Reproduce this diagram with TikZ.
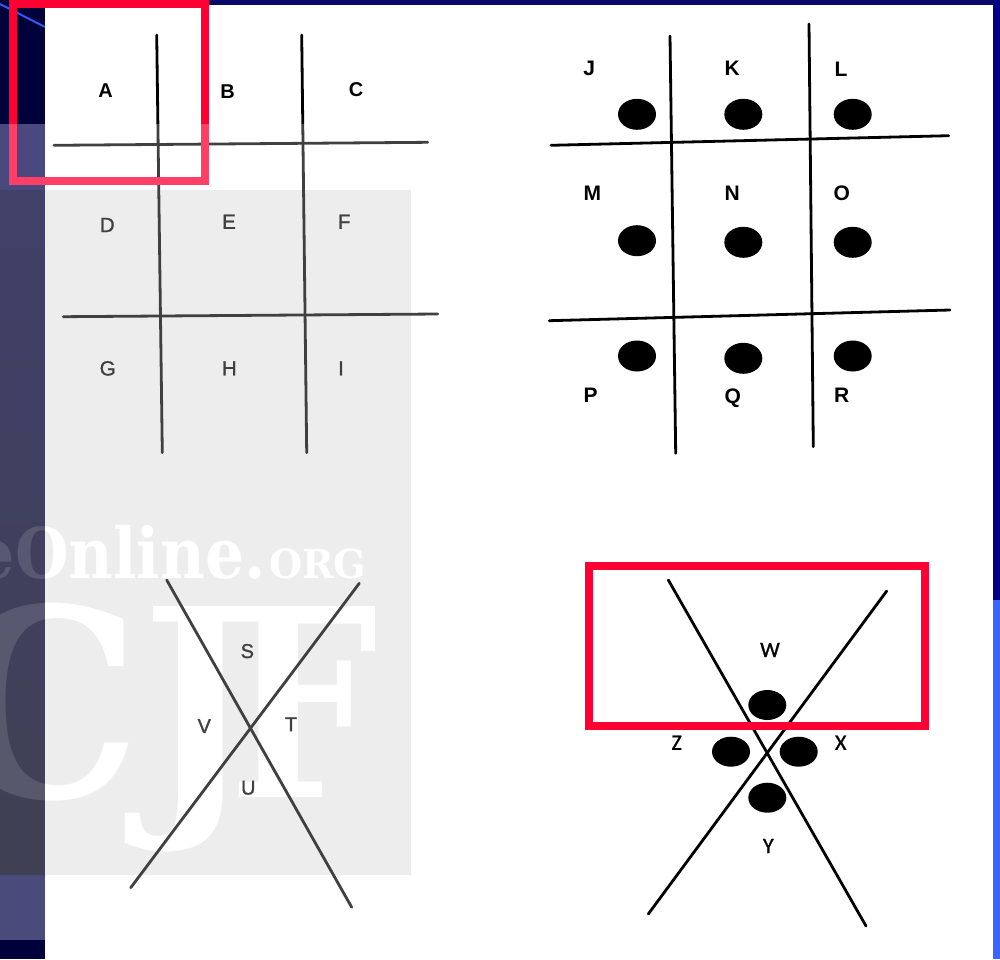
\documentclass[tikz,border=0pt]{standalone}
\usepackage{fontspec}
\setmainfont{Liberation Sans}
\newfontfamily\medfont[FakeBold=1.2]{Liberation Sans}
\newfontfamily\wmfont{DejaVu Serif}
\newfontfamily\calibfont[FakeBold=1.0]{Carlito}
\usetikzlibrary{shapes.geometric}
\definecolor{navybg}{RGB}{0,0,58}
\definecolor{topnavy}{RGB}{8,8,105}
\definecolor{rightnavy}{RGB}{0,0,135}
\definecolor{rightblue}{RGB}{58,102,255}
\definecolor{blueline}{RGB}{50,90,240}
\definecolor{stripA}{RGB}{13,13,85}
\definecolor{stripB}{RGB}{0,0,56}
\definecolor{stripC}{RGB}{0,0,26}
\definecolor{stripD}{RGB}{15,15,79}
\definecolor{wmgray}{RGB}{232,232,232}
\definecolor{boxred}{RGB}{255,0,51}
\tikzset{
  gline/.style={draw=black, line width=2.8pt, line cap=round},
  dot/.style={ellipse, fill=black, minimum width=38pt, minimum height=31pt, inner sep=0pt},
  dotx/.style={ellipse, fill=black, minimum width=38pt, minimum height=30pt, inner sep=0pt},
  labbold/.style={inner sep=0pt, text depth=0pt, font=\fontsize{20}{20}\selectfont\bfseries},
  labreg/.style={inner sep=0pt, text depth=0pt, font=\medfont\fontsize{20.5}{20}\selectfont},
  labJ/.style={inner sep=0pt, text depth=0pt, font=\fontsize{21}{21}\selectfont\bfseries},
  labS/.style={inner sep=0pt, text depth=0pt, font=\medfont\fontsize{20}{20}\selectfont},
  labW/.style={inner sep=0pt, text depth=0pt, font=\calibfont\fontsize{22}{22}\selectfont},
  redbox/.style={draw=boxred, line width=8pt},
  wm/.style={inner sep=0pt, text=white},
}
\newcommand\wmdraw[1]{%
  \node[wm, #1, font=\wmfont\bfseries\fontsize{70}{70}\selectfont, anchor=base east, xscale=0.88] (wmOnline) at (266,578) {eOnline.};
  \node[wm, #1, font=\wmfont\bfseries\fontsize{40}{40}\selectfont, anchor=base west, xscale=0.95] (wmOrg) at (269,578) {ORG};
  \node[wm, #1, font=\wmfont\bfseries\fontsize{262}{262}\selectfont, anchor=base east, xscale=0.95] (wmC) at (142,797) {C};
  \node[wm, #1, font=\wmfont\bfseries\fontsize{262}{262}\selectfont, anchor=base west, xscale=0.9] (wmJ) at (142,797) {J};
  \node[wm, #1, font=\wmfont\bfseries\fontsize{262}{262}\selectfont, anchor=base west, xscale=0.8] (wmF) at (229,797) {F};
}
\begin{document}
\begin{tikzpicture}[x=1pt,y=-1pt]
\useasboundingbox (0,0) rectangle (1000,959);
% background
\fill[navybg] (0,0) rectangle (1000,959);
\fill[topnavy] (45,0) rectangle (993,5);
\fill[rightnavy] (993,0) rectangle (1000,600);
\fill[rightblue] (993,600) rectangle (1000,959);
\draw[blueline, line width=2pt] (0,4) -- (45,27);
\fill[white] (45,5) rectangle (993,959);
\fill[stripA] (0,124) rectangle (45,190);
\shade[top color=stripB, bottom color=stripC] (0,190) rectangle (45,875);
\fill[stripD] (0,875) rectangle (45,940);
\fill[wmgray] (45,190) rectangle (411,875);
% watermark
\begin{scope}
  \clip (45,190) rectangle (411,875);
  \wmdraw{}
\end{scope}
\begin{scope}
  \clip (0,124) rectangle (45,940);
  \wmdraw{opacity=0.13}
\end{scope}
% grid 1
\coordinate (g1a1) at (156.7,35);  \coordinate (g1a2) at (162.3,452.7);
\coordinate (g1b1) at (301.7,35);  \coordinate (g1b2) at (306.7,452.7);
\coordinate (g1c1) at (54,145.3);  \coordinate (g1c2) at (427.7,142.3);
\coordinate (g1d1) at (63.3,316.7); \coordinate (g1d2) at (437.7,314);
\draw[gline] (g1a1) -- (g1a2);
\draw[gline] (g1b1) -- (g1b2);
\draw[gline] (g1c1) -- (g1c2);
\draw[gline] (g1d1) -- (g1d2);
\node[labbold] (A) at (105.7,90.7) {A};
\node[labbold] (B) at (227.7,91.7) {B};
\node[labbold] (C) at (356,90) {C};
\node[labreg] (D) at (107.3,225) {D};
\node[labreg] (E) at (229,221.7) {E};
\node[labreg] (F) at (344.3,221.7) {F};
\node[labreg] (G) at (107.7,368.3) {G};
\node[labreg] (H) at (229.3,368.3) {H};
\node[labreg] (I) at (341,368.3) {I};
% grid 2
\coordinate (g2a1) at (670,36);    \coordinate (g2a2) at (675.7,453.3);
\coordinate (g2b1) at (809,24);    \coordinate (g2b2) at (813.3,446.7);
\coordinate (g2c1) at (551,145.3); \coordinate (g2c2) at (948.7,135.7);
\coordinate (g2d1) at (549.3,320.7); \coordinate (g2d2) at (950,310);
\draw[gline] (g2a1) -- (g2a2);
\draw[gline] (g2b1) -- (g2b2);
\draw[gline] (g2c1) -- (g2c2);
\draw[gline] (g2d1) -- (g2d2);
\node[dot] (dJ) at (637,114.3) {};
\node[dot] (dK) at (743.3,114.3) {};
\node[dot] (dL) at (852.7,114.3) {};
\node[dot] (dM) at (637,240.7) {};
\node[dot] (dN) at (743.3,242.3) {};
\node[dot] (dO) at (852.7,242.3) {};
\node[dot] (dP) at (637,356) {};
\node[dot] (dQ) at (743.3,358.3) {};
\node[dot] (dR) at (852.7,356) {};
\node[labJ] (J) at (589.3,68.3) {J};
\node[labJ] (K) at (732.3,68.3) {K};
\node[labJ] (L) at (841,69.3) {L};
\node[labJ] (M) at (592.3,193.3) {M};
\node[labJ] (N) at (732.3,193.3) {N};
\node[labJ] (O) at (841.7,193.3) {O};
\node[labJ] (P) at (590.7,395.7) {P};
\node[labJ] (Q) at (732.7,395.7) {Q};
\node[labJ] (R) at (841.7,395.7) {R};
% X 1
\coordinate (x1a1) at (166.7,580); \coordinate (x1a2) at (351.7,907.3);
\coordinate (x1b1) at (359.3,583.3); \coordinate (x1b2) at (130.7,887.7);
\draw[gline] (x1a1) -- (x1a2);
\draw[gline] (x1b1) -- (x1b2);
\node[labS] (S) at (247.3,651) {S};
\node[labS] (V) at (204.3,726) {V};
\node[labS] (T) at (291,724.3) {T};
\node[labS] (U) at (248.3,787.7) {U};
% X 2
\coordinate (x2a1) at (668.3,580); \coordinate (x2a2) at (866,926);
\coordinate (x2b1) at (886.7,591); \coordinate (x2b2) at (648.3,914);
\draw[gline] (x2a1) -- (x2a2);
\draw[gline] (x2b1) -- (x2b2);
\node[dotx] (dW) at (767.3,705) {};
\node[dotx] (dZ) at (731,751.7) {};
\node[dotx] (dX) at (798.7,751.7) {};
\node[dotx] (dY) at (767.3,797.7) {};
\node[labW] (W) at (770,650) {W};
\node[labW] (Z) at (676.7,742.7) {Z};
\node[labW] (X) at (840.7,742.7) {X};
\node[labW] (Y) at (768.3,846) {Y};
% highlight boxes
\draw[redbox] (13,4) rectangle (205,181);
\draw[redbox] (589,565.5) rectangle (925,725.5);
% watermark veil
\fill[white, opacity=0.25] (0,124) rectangle (445,940);
\end{tikzpicture}
\end{document}
